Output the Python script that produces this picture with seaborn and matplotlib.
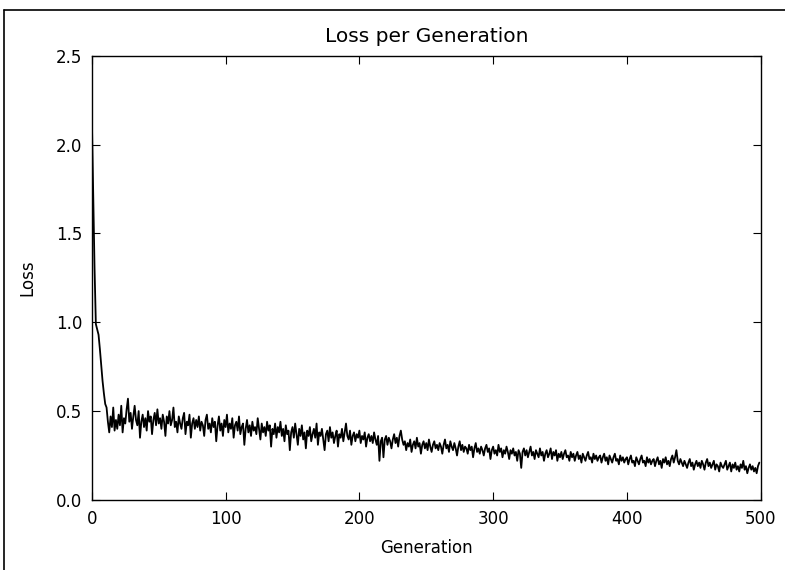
import numpy as np
import pandas as pd
import matplotlib
matplotlib.use("Agg")
import matplotlib.pyplot as plt
import seaborn as sns
from matplotlib.lines import Line2D

"""Loss per generation curve, read off the reference picture"""

# loss value per generation (generation 0..499)
loss_vals = [
    2.15, 1.72, 1.31, 0.99, 0.96, 0.93, 0.85, 0.76, 0.67, 0.60, 0.54, 0.52, 0.44, 0.38, 0.47, 0.41, 0.52, 0.39, 0.45, 0.40,
    0.48, 0.42, 0.53, 0.38, 0.46, 0.43, 0.51, 0.57, 0.44, 0.49, 0.40, 0.47, 0.53, 0.45, 0.42, 0.50, 0.35, 0.44, 0.48, 0.41,
    0.46, 0.39, 0.50, 0.44, 0.47, 0.37, 0.45, 0.49, 0.42, 0.51, 0.43, 0.46, 0.40, 0.48, 0.44, 0.36, 0.47, 0.43, 0.50, 0.42,
    0.45, 0.52, 0.41, 0.44, 0.38, 0.47, 0.43, 0.40, 0.46, 0.49, 0.37, 0.44, 0.42, 0.48, 0.35, 0.43, 0.46, 0.40, 0.45, 0.41,
    0.47, 0.39, 0.44, 0.42, 0.36, 0.45, 0.48, 0.40, 0.43, 0.38, 0.46, 0.41, 0.44, 0.33, 0.42, 0.47, 0.39, 0.43, 0.36, 0.45,
    0.41, 0.48, 0.38, 0.43, 0.40, 0.46, 0.35, 0.42, 0.44, 0.39, 0.47, 0.37, 0.41, 0.43, 0.31, 0.40, 0.45, 0.38, 0.42, 0.36,
    0.44, 0.39, 0.41, 0.37, 0.46, 0.40, 0.34, 0.43, 0.38, 0.41, 0.36, 0.44, 0.39, 0.42, 0.30, 0.40, 0.37, 0.43, 0.35, 0.41,
    0.38, 0.44, 0.36, 0.40, 0.33, 0.42, 0.37, 0.39, 0.28, 0.38, 0.41, 0.35, 0.43, 0.37, 0.31, 0.40, 0.36, 0.42, 0.34, 0.38,
    0.29, 0.39, 0.36, 0.41, 0.33, 0.37, 0.40, 0.35, 0.43, 0.31, 0.38, 0.36, 0.40, 0.34, 0.28, 0.37, 0.39, 0.33, 0.41, 0.35,
    0.38, 0.32, 0.36, 0.39, 0.30, 0.37, 0.35, 0.40, 0.33, 0.38, 0.43, 0.36, 0.34, 0.39, 0.31, 0.36, 0.38, 0.33, 0.37, 0.35,
    0.39, 0.32, 0.36, 0.34, 0.38, 0.30, 0.35, 0.37, 0.33, 0.36, 0.32, 0.38, 0.34, 0.31, 0.36, 0.22, 0.33, 0.35, 0.24, 0.34,
    0.36, 0.31, 0.35, 0.33, 0.29, 0.34, 0.37, 0.32, 0.35, 0.30, 0.36, 0.39, 0.34, 0.31, 0.33, 0.28, 0.32, 0.30, 0.34, 0.27,
    0.31, 0.33, 0.29, 0.35, 0.30, 0.32, 0.26, 0.31, 0.33, 0.29, 0.32, 0.28, 0.34, 0.30, 0.27, 0.31, 0.33, 0.29, 0.31, 0.28,
    0.32, 0.30, 0.26, 0.31, 0.34, 0.29, 0.31, 0.27, 0.33, 0.30, 0.28, 0.32, 0.29, 0.25, 0.30, 0.33, 0.28, 0.31, 0.27, 0.30,
    0.29, 0.26, 0.31, 0.28, 0.30, 0.24, 0.29, 0.32, 0.27, 0.29, 0.26, 0.30, 0.28, 0.25, 0.29, 0.31, 0.27, 0.29, 0.23, 0.28,
    0.30, 0.26, 0.28, 0.25, 0.31, 0.27, 0.29, 0.24, 0.28, 0.26, 0.30, 0.27, 0.23, 0.28, 0.26, 0.29, 0.25, 0.27, 0.22, 0.28,
    0.26, 0.18, 0.27, 0.29, 0.25, 0.28, 0.24, 0.27, 0.30, 0.25, 0.27, 0.23, 0.28, 0.26, 0.24, 0.29, 0.25, 0.27, 0.22, 0.26,
    0.28, 0.24, 0.26, 0.29, 0.23, 0.27, 0.25, 0.28, 0.22, 0.26, 0.24, 0.27, 0.23, 0.26, 0.28, 0.24, 0.25, 0.22, 0.27, 0.24,
    0.26, 0.22, 0.25, 0.27, 0.23, 0.25, 0.21, 0.26, 0.24, 0.22, 0.25, 0.27, 0.23, 0.24, 0.21, 0.26, 0.23, 0.25, 0.22, 0.24,
    0.25, 0.21, 0.24, 0.26, 0.22, 0.24, 0.20, 0.25, 0.23, 0.21, 0.24, 0.26, 0.22, 0.23, 0.20, 0.25, 0.22, 0.24, 0.21, 0.23,
    0.24, 0.20, 0.23, 0.25, 0.21, 0.22, 0.19, 0.24, 0.22, 0.20, 0.23, 0.25, 0.21, 0.22, 0.19, 0.24, 0.21, 0.23, 0.20, 0.22,
    0.23, 0.19, 0.22, 0.24, 0.20, 0.22, 0.18, 0.23, 0.21, 0.24, 0.20, 0.22, 0.19, 0.23, 0.25, 0.21, 0.24, 0.28, 0.22, 0.20,
    0.23, 0.21, 0.19, 0.22, 0.20, 0.18, 0.21, 0.23, 0.19, 0.21, 0.17, 0.20, 0.22, 0.19, 0.21, 0.18, 0.22, 0.20, 0.17, 0.21,
    0.23, 0.19, 0.21, 0.18, 0.20, 0.22, 0.17, 0.20, 0.19, 0.16, 0.21, 0.19, 0.18, 0.20, 0.22, 0.17, 0.19, 0.21, 0.16, 0.20,
    0.18, 0.21, 0.17, 0.19, 0.16, 0.20, 0.18, 0.22, 0.17, 0.19, 0.15, 0.18, 0.20, 0.17, 0.19, 0.16, 0.18, 0.15, 0.19, 0.21,
]
generations = list(range(len(loss_vals)))

x_ticks = [0, 100, 200, 300, 400, 500]
y_ticks = [0.0, 0.5, 1.0, 1.5, 2.0, 2.5]

sns.set_style("ticks")
plt.rcParams["font.family"] = ["DejaVu Sans"]
plt.rcParams["xtick.direction"] = "in"
plt.rcParams["ytick.direction"] = "in"
plt.rcParams["xtick.top"] = True
plt.rcParams["ytick.right"] = True
plt.rcParams["text.color"] = "black"
plt.rcParams["axes.labelcolor"] = "black"
plt.rcParams["xtick.color"] = "black"
plt.rcParams["ytick.color"] = "black"

df = pd.DataFrame({"Generation": generations, "Loss": loss_vals})

fig = plt.figure(figsize=(7.85, 5.7), dpi=100)
ax = fig.add_axes([0.117, 0.123, 0.852, 0.779])

sns.lineplot(data=df, x="Generation", y="Loss", color="black", linewidth=1.3, ax=ax)

ax.set_xlim(0, 500)
ax.set_ylim(0, 2.5)
ax.set_xticks(x_ticks)
ax.set_yticks(y_ticks)
ax.set_yticklabels([f"{t:.1f}" for t in y_ticks])
ax.tick_params(axis="both", length=6, width=0.8, labelsize=12, pad=7)
for side in ax.spines.values():
    side.set_color("black")
    side.set_linewidth(1.0)

ax.set_title("Loss per Generation", fontsize=14.5, pad=10)
ax.set_xlabel("Generation", fontsize=12, labelpad=8)
ax.set_ylabel("Loss", fontsize=12, labelpad=14)

# frame lines of the screenshot (top and left edge)
fig.add_artist(Line2D([0.005, 1.0], [0.983, 0.983], color="black", linewidth=1.2, transform=fig.transFigure))
fig.add_artist(Line2D([0.005, 0.005], [0.0, 0.983], color="black", linewidth=1.2, transform=fig.transFigure))

plt.savefig("out.png", dpi=100)
